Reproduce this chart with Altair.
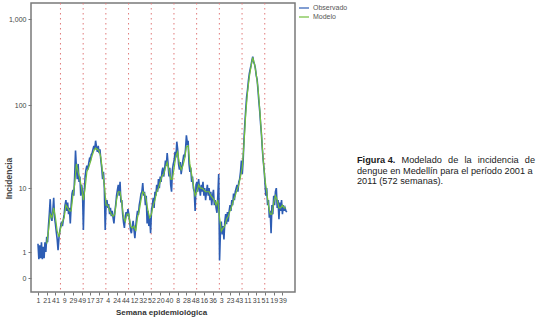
import altair as alt
import pandas as pd

# ---- Observed weekly incidence (every 2nd week, index 0..570) ----
obs_2001 = [1.5, 0.65, 1.4, 0.7, 1.6, 0.65, 1.3, 0.7, 1.6, 1.0, 2.0, 1.6, 3.0, 4.5, 7.2, 4.0, 3.6, 5.0, 7.5, 4.0, 3.2, 2.4, 1.8, 1.1, 1.9, 2.5]
obs_2002 = [3.0, 3.5, 3.0, 3.7, 4.5, 6.0, 7.0, 5.0, 6.5, 4.5, 5.5, 3.3, 6.0, 8.5, 9.5, 8.0, 14, 29, 18, 13, 20, 12, 14, 8, 11, 9]
obs_2003 = [2.6, 9, 14, 17, 19, 17, 20, 23, 22, 26, 27, 30, 33, 30, 38, 32, 28, 33, 27, 30, 22, 18, 13, 16, 10, 2.6]
obs_2004 = [6.5, 7, 5.5, 6.2, 4.5, 5.5, 4.2, 5.0, 4.0, 3.3, 4.8, 6.0, 8.0, 9.5, 11, 8, 12, 6.5, 7, 4.5, 3.4, 2.8, 4.2, 4.8, 4.2, 5.3]
obs_2005 = [4.5, 3.5, 2.6, 2.3, 3.0, 3.6, 2.6, 1.9, 3.0, 4.0, 5.0, 4.4, 6.0, 7.0, 8.5, 9.0, 11.6, 8.0, 9.0, 6.0, 8.0, 3.3, 5.0, 3.0, 4.0, 2.3]
obs_2006 = [5.0, 6.0, 7.5, 5.5, 9.0, 8.0, 11, 9, 13, 10, 14, 12, 16, 18, 14, 17, 22, 19, 27, 20, 14, 18, 11, 9, 17, 20]
obs_2007 = [22, 28, 24, 37, 30, 20, 17, 21, 15, 18, 22, 26, 24, 30, 44, 36, 38, 20, 16, 18, 12, 14, 10, 9, 5, 11]
obs_2008 = [12, 9, 13, 10, 8, 11, 9, 12, 8, 10, 7, 9, 11, 8, 10, 7, 9, 6, 8, 9.5, 6, 7, 5.5, 4.7, 8, 15]
obs_2009 = [0.6, 2.5, 3.5, 2.2, 3.0, 1.8, 3.5, 4.5, 3.2, 4.8, 3.5, 5.0, 6.0, 5.0, 7.0, 6.0, 8.5, 7.0, 9.0, 10, 11, 9, 12, 13, 16, 22]
obs_2010 = [15, 22, 40, 62, 90, 125, 150, 190, 230, 260, 290, 330, 366, 320, 300, 270, 220, 200, 150, 110, 85, 60, 45, 30, 22, 17]
obs_2011 = [12, 8, 10, 6, 7, 4, 5, 2.3, 6, 4.5, 8, 6, 9, 10, 5.5, 7, 3.8, 6.5, 5, 7, 4.5, 6, 5, 5.5, 5, 4.8]

# ---- Model (every 4th week, index 20..568) ----
mod_2001 = [1.5, 2.5, 4.5, 4.0, 5.5, 4.0, 2.5, 2.0]
mod_2002 = [2.8, 3.5, 4.0, 6.0, 5.5, 5.0, 5.0, 8.0, 11, 20, 16, 13, 10]
mod_2003 = [7, 10, 16, 18, 21, 25, 29, 31, 30, 29, 24, 16, 11]
mod_2004 = [6, 6, 5, 4.5, 4.2, 4.5, 7, 9, 9, 6.5, 4, 3.5, 4.5]
mod_2005 = [4.5, 3.0, 2.8, 3.0, 2.5, 4.0, 5.0, 7.0, 9.0, 8.5, 7.0, 5.0, 4.0]
mod_2006 = [4.5, 6.0, 7.0, 9.0, 10, 12, 14, 15, 18, 21, 17, 13, 13]
mod_2007 = [18, 25, 28, 20, 17, 19, 23, 32, 33, 20, 15, 11, 8]
mod_2008 = [9, 11, 10, 10, 9.5, 9, 9, 9, 8, 7.5, 7, 6, 7]
mod_2009 = [4, 2.5, 2.8, 3.0, 3.8, 4.2, 5.0, 5.8, 7.0, 8.0, 9.5, 11, 14]
mod_2010 = [18, 35, 80, 140, 210, 280, 360, 300, 230, 160, 90, 45, 22]
mod_2011 = [13, 9, 6, 4.5, 4.5, 6.5, 8, 7, 5.5, 5.5, 6, 5.5, 5.5]

year_boundaries = [52, 104, 156, 208, 260, 312, 364, 416, 468, 520]
tick_weeks = list(range(0, 561, 20))
tick_labels = ["1", "21", "41", "9", "29", "49", "17", "37", "4", "24", "44", "12", "32", "52",
               "20", "40", "8", "28", "48", "16", "36", "3", "23", "43", "11", "31", "51", "19", "39"]
y_ticks = [0, 1, 10, 100, 1000]
series_names = ["Observado", "Modelo"]
series_colors = ["#2d5db4", "#72bf3c"]

observado = (obs_2001 + obs_2002 + obs_2003 + obs_2004 + obs_2005 + obs_2006 +
             obs_2007 + obs_2008 + obs_2009 + obs_2010 + obs_2011)
modelo = (mod_2001 + mod_2002 + mod_2003 + mod_2004 + mod_2005 + mod_2006 +
          mod_2007 + mod_2008 + mod_2009 + mod_2010 + mod_2011)

df_obs = pd.DataFrame({"semana": list(range(0, 572, 2)), "valor": observado, "serie": "Observado"})
df_mod = pd.DataFrame({"semana": list(range(20, 572, 4)), "valor": modelo, "serie": "Modelo"})
df_years = pd.DataFrame({"semana": [b - 0.5 for b in year_boundaries]})

FONT = "Liberation Sans"
label_expr = "[" + ",".join("'" + t + "'" for t in tick_labels) + "][round(datum.value/20)]"

xscale = alt.Scale(domain=[-16, 588.8], nice=False, zero=False)
xaxis = alt.Axis(values=tick_weeks, labelExpr=label_expr, title="Semana epidemiológica",
                 titleX=130, titleY=20, titleBaseline="middle", titleFontSize=8,
                 titleFontWeight="bold", titleColor="#333", labelFontSize=7,
                 labelColor="#444", tickSize=3, labelPadding=1, labelOverlap=False,
                 labelFlush=False)
yscale = alt.Scale(type="symlog", constant=1, domain=[-0.452, 1537], nice=False, zero=False)
yaxis = alt.Axis(values=y_ticks, format=",d", title="Incidencia", titleX=-23, titleY=175,
                 titleBaseline="middle", titleAlign="center", titleFontSize=8.5,
                 titleFontWeight="bold", titleColor="#444", labelFontSize=7,
                 labelColor="#444", tickSize=3, labelPadding=2)
color = alt.Color("serie:N", scale=alt.Scale(domain=series_names, range=series_colors),
                  legend=alt.Legend(title=None, orient="none", legendX=267, legendY=-1,
                                    symbolType="stroke", symbolSize=100, symbolStrokeWidth=1.2,
                                    labelFontSize=7, labelColor="#555", labelFont=FONT,
                                    padding=0, rowPadding=0, labelOffset=3))

rules = alt.Chart(df_years).mark_rule(color="#e07a7a", strokeDash=[1.5, 3.5], strokeWidth=1).encode(
    x=alt.X("semana:Q", scale=xscale, axis=xaxis))

line_obs = alt.Chart(df_obs).mark_line(strokeWidth=1.6).encode(
    x=alt.X("semana:Q", scale=xscale, axis=xaxis),
    y=alt.Y("valor:Q", scale=yscale, axis=yaxis),
    color=color)

line_mod = alt.Chart(df_mod).mark_line(strokeWidth=1.2).encode(
    x=alt.X("semana:Q", scale=xscale, axis=xaxis),
    y=alt.Y("valor:Q", scale=yscale, axis=yaxis),
    color=color)

def caption(text, x, y, align="left", bold=False):
    return alt.Chart(pd.DataFrame({"t": [text]})).mark_text(
        align=align, baseline="middle", font=FONT, fontSize=9.2,
        fontWeight="bold" if bold else "normal", color="#1a1a1a").encode(
        text="t:N", x=alt.value(x), y=alt.value(y))

# first caption line set word by word to imitate the justified paragraph
cap_words = [
    caption("Figura 4.", 326, 157, bold=True),
    caption("Modelado", 370.5, 157),
    caption("de", 417.1, 157),
    caption("la", 433.4, 157),
    caption("incidencia", 446.8, 157),
    caption("de", 504, 157, align="right"),
]
cap2 = caption("dengue en Medellín para el período 2001 a", 326, 167.5)
cap3 = caption("2011 (572 semanas).", 326, 178)

chart = alt.layer(rules, line_obs, line_mod, *cap_words, cap2, cap3).properties(
    width=264, height=289,
    padding={"left": 31, "top": 3, "right": 242, "bottom": 27},
    autosize=alt.AutoSizeParams(type="none"),
).configure_view(stroke="#7a7a7a", strokeWidth=1.5).configure_axis(
    grid=False, domain=False, tickColor="#777", labelFont=FONT, titleFont=FONT)

chart.save("out.html", embed_options={"renderer": "svg", "actions": False})
